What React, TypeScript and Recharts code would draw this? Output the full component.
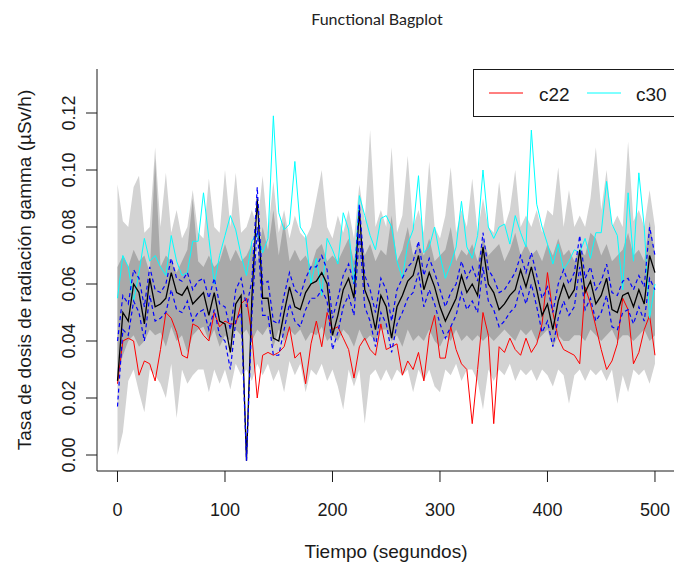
import { ComposedChart, Area, Line, XAxis, YAxis } from 'recharts'

// time grid in seconds, one reading every 5 s
const SECONDS = Array.from({ length: 101 }, (_, i) => i * 5)

// all rates below are in 0.001 µSv/h
const median = [
  26, 50, 47, 60, 57, 46, 62, 52, 53, 55,
  64, 57, 56, 59, 53, 55, 57, 49, 57, 47,
  46, 36, 53, 56, -2, 55, 90, 55, 55, 41,
  40, 50, 59, 52, 51, 57, 60, 61, 64, 60,
  42, 49, 58, 62, 55, 86, 58, 53, 44, 56,
  52, 41, 52, 56, 61, 63, 70, 58, 64, 59,
  52, 47, 51, 55, 63, 57, 60, 56, 73, 60,
  57, 51, 53, 56, 58, 65, 59, 66, 58, 49,
  53, 44, 54, 60, 55, 58, 72, 57, 61, 53,
  56, 62, 51, 50, 56, 57, 52, 58, 53, 70, 64,
]

const blueUpper = [
  40, 56, 53, 65, 62, 52, 66, 58, 57, 60,
  69, 62, 61, 64, 58, 61, 62, 55, 62, 53,
  52, 44, 58, 62, 52, 61, 94, 60, 61, 47,
  46, 56, 64, 58, 56, 62, 66, 66, 70, 65,
  48, 55, 63, 67, 60, 88, 63, 58, 50, 62,
  58, 47, 58, 62, 66, 68, 75, 63, 69, 64,
  58, 52, 57, 60, 68, 62, 66, 61, 78, 65,
  62, 57, 58, 61, 64, 70, 64, 71, 63, 55,
  59, 50, 60, 65, 60, 64, 77, 62, 66, 58,
  61, 67, 57, 56, 61, 62, 58, 63, 59, 80, 70,
]

const blueLower = [
  17, 44, 42, 54, 50, 40, 56, 47, 48, 50,
  58, 51, 50, 54, 47, 50, 51, 44, 51, 42,
  40, 30, 47, 50, -2, 49, 80, 49, 49, 35,
  35, 44, 53, 47, 45, 51, 55, 55, 58, 54,
  37, 43, 52, 56, 49, 78, 52, 47, 38, 50,
  46, 36, 46, 50, 55, 57, 64, 52, 58, 53,
  46, 41, 45, 49, 57, 51, 54, 50, 66, 54,
  51, 45, 47, 50, 52, 59, 53, 60, 52, 43,
  47, 38, 48, 54, 49, 52, 66, 51, 55, 47,
  50, 56, 45, 44, 50, 51, 46, 52, 47, 62, 58,
]

const c22 = [
  25, 40, 41, 40, 28, 33, 32, 26, 37, 50,
  48, 43, 35, 34, 46, 45, 42, 40, 50, 45,
  47, 46, 46, 53, 55, 42, 20, 35, 36, 35,
  36, 38, 45, 34, 36, 25, 39, 47, 38, 50,
  44, 45, 41, 37, 27, 38, 41, 37, 35, 46,
  37, 38, 39, 28, 33, 30, 36, 26, 42, 49,
  34, 34, 45, 37, 32, 30, 11, 30, 50, 42,
  11, 38, 36, 41, 37, 35, 41, 36, 39, 46,
  64, 50, 41, 37, 36, 35, 32, 59, 53, 45,
  37, 30, 33, 39, 55, 51, 32, 36, 44, 49, 35,
]

const c30 = [
  55, 70, 66, 54, 64, 76, 68, 70, 66, 63,
  77, 68, 63, 64, 75, 75, 92, 76, 60, 70,
  77, 84, 79, 70, 63, 75, 78, 71, 76, 119,
  85, 79, 81, 103, 80, 77, 60, 69, 56, 76,
  72, 67, 85, 79, 60, 91, 84, 77, 72, 83,
  84, 80, 68, 62, 74, 79, 98, 71, 73, 80,
  70, 62, 67, 73, 89, 73, 69, 77, 100, 80,
  76, 80, 81, 74, 84, 78, 73, 114, 88, 80,
  74, 67, 74, 65, 68, 72, 71, 76, 69, 78,
  78, 96, 81, 77, 58, 92, 68, 99, 80, 48, 60,
]

// light grey outer region
const outerLow = [
  0, 8, 26, 30, 22, 15, 30, 28, 25, 20,
  32, 13, 30, 25, 28, 30, 30, 22, 30, 25,
  30, 23, 32, 28, 30, 26, 32, 28, 32, 26,
  30, 22, 33, 28, 32, 22, 30, 28, 32, 26,
  30, 24, 16, 30, 24, 30, 11, 28, 30, 26,
  30, 26, 30, 28, 30, 22, 30, 26, 30, 24,
  22, 30, 28, 32, 26, 30, 30, 26, 16, 30,
  26, 30, 28, 32, 26, 30, 28, 30, 26, 30,
  28, 24, 30, 28, 18, 28, 30, 26, 30, 28,
  30, 26, 30, 18, 28, 22, 30, 28, 30, 25, 32,
]

const outerHigh = [
  95, 82, 80, 94, 98, 78, 80, 108, 80, 99,
  78, 86, 76, 80, 93, 78, 76, 97, 80, 78,
  100, 80, 99, 78, 80, 86, 80, 98, 78, 96,
  78, 86, 76, 84, 78, 76, 80, 90, 100, 80,
  76, 84, 78, 86, 76, 95, 82, 114, 80, 86,
  80, 108, 78, 84, 105, 80, 86, 78, 103, 80,
  76, 84, 101, 78, 86, 80, 97, 78, 90, 80,
  78, 96, 80, 86, 100, 80, 84, 80, 86, 78,
  86, 84, 101, 80, 93, 80, 84, 80, 90, 108,
  86, 100, 80, 84, 80, 110, 82, 86, 80, 93, 80,
]

// dark grey bag
const innerLow = [
  28, 35, 40, 42, 38, 40, 44, 42, 43, 38,
  45, 40, 42, 36, 42, 44, 45, 40, 44, 38,
  42, 40, 44, 42, 44, 40, 44, 42, 45, 38,
  44, 40, 44, 42, 44, 40, 43, 42, 45, 40,
  42, 40, 44, 42, 38, 44, 40, 42, 40, 44,
  44, 40, 42, 38, 44, 40, 42, 40, 44, 40,
  38, 42, 40, 44, 40, 42, 40, 42, 40, 42,
  40, 42, 44, 42, 40, 44, 42, 44, 40, 42,
  44, 38, 42, 40, 40, 42, 42, 40, 44, 42,
  40, 42, 44, 40, 42, 42, 40, 42, 44, 40, 42,
]

const innerHigh = [
  66, 70, 66, 72, 68, 70, 64, 104, 66, 70,
  68, 64, 68, 72, 90, 68, 66, 70, 66, 68,
  74, 68, 72, 68, 70, 74, 68, 80, 72, 86,
  70, 82, 68, 72, 68, 70, 66, 72, 74, 68,
  70, 68, 72, 76, 68, 80, 70, 74, 68, 72,
  70, 84, 68, 72, 80, 70, 74, 70, 76, 68,
  70, 72, 80, 68, 72, 70, 74, 68, 76, 70,
  72, 74, 68, 72, 78, 70, 74, 70, 72, 68,
  74, 70, 76, 70, 72, 68, 72, 70, 78, 76,
  70, 74, 68, 70, 72, 78, 70, 72, 68, 82, 70,
]

const X_TICKS = [0, 100, 200, 300, 400, 500]
const Y_TICKS = [0, 20, 40, 60, 80, 100, 120]

const FONT = '"Liberation Sans", Arial, sans-serif'
const INK = '#1a1a1a'

const rows = SECONDS.map((t, i) => ({
  t,
  outer: [outerLow[i], outerHigh[i]],
  inner: [innerLow[i], innerHigh[i]],
  median: median[i],
  blueUpper: blueUpper[i],
  blueLower: blueLower[i],
  c22: c22[i],
  c30: c30[i],
}))

const XTick = ({ x, payload }: any) => (
  <text x={x} y={516} textAnchor="middle" fontFamily={FONT} fontSize={18} fill={INK}>
    {payload.value}
  </text>
)

const YTick = ({ y, payload }: any) => (
  <text
    x={75}
    y={y}
    transform={`rotate(-90 75 ${y})`}
    textAnchor="middle"
    fontFamily={FONT}
    fontSize={18}
    fill={INK}
  >
    {(payload.value / 1000).toFixed(2)}
  </text>
)

export default function App() {
  return (
    <div style={{ position: 'absolute', left: 0, top: 0, width: 674, height: 572, background: '#fff' }}>
      <ComposedChart
        width={674}
        height={572}
        data={rows}
        margin={{ top: 69, right: 0, bottom: 0, left: 0 }}
      >
        <XAxis
          xAxisId="top"
          orientation="top"
          dataKey="t"
          type="number"
          domain={[-19.07, 517.7]}
          height={0}
          tick={false}
          tickLine={false}
          axisLine={{ stroke: INK }}
        />
        <XAxis
          dataKey="t"
          type="number"
          domain={[-19.07, 517.7]}
          allowDataOverflow
          ticks={X_TICKS}
          height={101}
          tickSize={11}
          tickLine={{ stroke: INK }}
          axisLine={{ stroke: INK }}
          tick={<XTick />}
        />
        <YAxis
          type="number"
          domain={[-5.61, 135.44]}
          allowDataOverflow
          ticks={Y_TICKS}
          width={97}
          tickSize={11}
          tickLine={{ stroke: INK }}
          axisLine={{ stroke: INK }}
          tick={<YTick />}
        />
        <Area dataKey="outer" type="linear" fill="#d3d3d3" fillOpacity={1} stroke="none" isAnimationActive={false} />
        <Area dataKey="inner" type="linear" fill="#a9a9a9" fillOpacity={1} stroke="none" isAnimationActive={false} />
        <Line dataKey="c22" type="linear" stroke="#ff0000" strokeWidth={1} dot={false} isAnimationActive={false} />
        <Line dataKey="c30" type="linear" stroke="#00ffff" strokeWidth={1} dot={false} isAnimationActive={false} />
        <Line dataKey="median" type="linear" stroke="#000000" strokeWidth={1.3} dot={false} isAnimationActive={false} />
        <Line dataKey="blueUpper" type="linear" stroke="#0000ff" strokeWidth={1.2} strokeDasharray="4 3" dot={false} isAnimationActive={false} />
        <Line dataKey="blueLower" type="linear" stroke="#0000ff" strokeWidth={1.2} strokeDasharray="4 3" dot={false} isAnimationActive={false} />
      </ComposedChart>

      <svg width={674} height={572} style={{ position: 'absolute', left: 0, top: 0, pointerEvents: 'none' }}>
        <text x={377} y={25} textAnchor="middle" fontFamily="Lato, sans-serif" fontSize={16} fill="#222">
          Functional Bagplot
        </text>
        <text x={386} y={558} textAnchor="middle" fontFamily={FONT} fontSize={19} fill={INK}>
          Tiempo (segundos)
        </text>
        <text
          x={31}
          y={270}
          transform="rotate(-90 31 270)"
          textAnchor="middle"
          fontFamily={FONT}
          fontSize={19}
          fill={INK}
        >
          Tasa de dosis de radiación gamma (µSv/h)
        </text>
        <rect x={473.5} y={69.5} width={220} height={47} fill="#fff" stroke={INK} strokeWidth={1} />
        <line x1={489} y1={93} x2={523} y2={93} stroke="#ff0000" strokeWidth={1} />
        <text x={539} y={101} fontFamily={FONT} fontSize={19} fill={INK}>c22</text>
        <line x1={587} y1={93} x2={621} y2={93} stroke="#00ffff" strokeWidth={1} />
        <text x={636} y={101} fontFamily={FONT} fontSize={19} fill={INK}>c30</text>
      </svg>
    </div>
  )
}
